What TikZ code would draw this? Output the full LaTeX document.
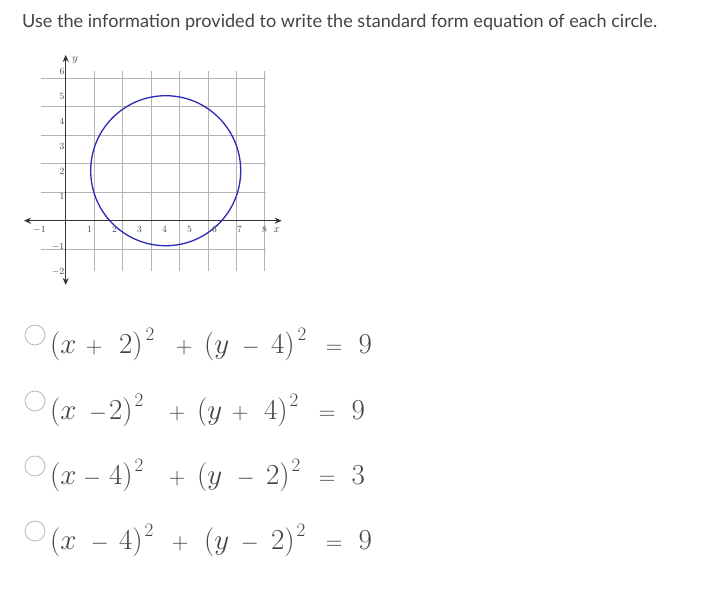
\RequirePackage{fix-cm}
\documentclass[tikz,border=0pt]{standalone}
\usepackage{fontspec}
\newfontfamily\titlefont{Lato}
\usetikzlibrary{arrows.meta}
\definecolor{txt}{HTML}{444444}
\definecolor{gridc}{HTML}{B4B4B4}
\definecolor{axisc}{HTML}{333333}
\definecolor{circc}{HTML}{2B2BB5}
\definecolor{radioc}{HTML}{B8B8B8}
\tikzset{
  eqp/.style={inner sep=0pt, text=txt, font=\fontsize{29}{32}\selectfont},
  opp/.style={inner sep=0pt, text=txt, font=\fontsize{23}{26}\selectfont},
  supp/.style={inner sep=0pt, text=txt, font=\fontsize{19}{21}\selectfont},
  radio/.style={circle, draw=radioc, fill=white, line width=0.8pt, minimum size=20pt, inner sep=0pt},
  tick/.style={inner sep=0pt, text=txt, font=\fontsize{9.5}{10}\selectfont},
  axis/.style={axisc, line width=1.3pt, {Stealth[length=7pt,width=6pt]}-{Stealth[length=7pt,width=6pt]}},
}
% #1 row, #2 baseline, #3 letters/digits, #4 operators, #5 superscripts
\newcommand{\eqrow}[5]{%
  \foreach \px/\tx [count=\k] in {#3} {\node[eqp, anchor=base west, name=e#1-\k] at (\px,#2) {\tx};}
  \foreach \px/\tx [count=\k] in {#4} {\node[opp, anchor=base west, name=o#1-\k] at (\px,#2) {\tx};}
  \foreach \px [count=\k] in {#5} {\node[supp, anchor=base west, name=s#1-\k] at (\px,#2-13) {$2$};}
}
\begin{document}
\begin{tikzpicture}[x=1pt,y=-1pt]
\path[use as bounding box, fill=white] (0,0) rectangle (712,590);
% title
\node[inner sep=0pt, anchor=base west, text=txt, font=\titlefont\fontsize{18.1}{22}\selectfont] (title) at (22,27) {Use the information provided to write the standard form equation of each circle.};
% graph
\begin{scope}[shift={(65.7,220.7)}, x=25pt, y=25pt]
  \draw[gridc, line width=0.9pt] (-1,-2) grid (8,6);
  \coordinate (xl) at (-1.67,0);
  \coordinate (xr) at (8.64,0);
  \coordinate (yt) at (0,6.63);
  \coordinate (yb) at (0,-2.57);
  \draw[axis] (xl) -- (xr);
  \draw[axis] (yb) -- (yt);
  \draw[circc, line width=1.3pt] (4,2) circle[radius=3];
  \foreach \v/\lab in {-1/$-1$,1/1,2/2,3/3,4/4,5/5,6/6,7/7,8/8}
    \node[tick, name=xt\v] at (\v-0.05,-0.36) {\lab};
  \foreach \v/\lab in {6/6,5/5,4/4,3/3,2/2,1/1,-1/$-1$,-2/$-2$}
    \node[tick, anchor=east, name=yt\v] at (-0.05,\v-0.04) {\lab};
  \node[tick, font=\fontsize{11}{11}\selectfont] (xlab) at (8.44,-0.38) {$x$};
  \node[tick, font=\fontsize{11}{11}\selectfont] (ylab) at (0.37,6.42) {$y$};
\end{scope}
% radio buttons
\node[radio] (rb1) at (35,335) {};
\node[radio] (rb2) at (35,401) {};
\node[radio] (rb3) at (35,466) {};
\node[radio] (rb4) at (35,531) {};
% equations
\eqrow{1}{353}{50/{$(x$},119/{$2)$},204/{$(y$},271/{$4)$},358.5/{$9$}}{85.7/{$+$},175.7/{$+$},241.7/{$-$},325.7/{$=$}}{145.5,297.5}
\eqrow{2}{419}{50/{$(x$},109/{$2)$},197/{$(y$},264/{$4)$},351.5/{$9$}}{89/{$-$},168.7/{$+$},231.7/{$+$},318.7/{$=$}}{134.5,289.5}
\eqrow{3}{484}{50/{$(x$},109/{$4)$},197/{$(y$},266/{$2)$},351.5/{$3$}}{83/{$-$},168.7/{$+$},236.7/{$-$},318.7/{$=$}}{134.5,291.5}
\eqrow{4}{549}{50/{$(x$},119/{$4)$},204/{$(y$},271/{$2)$},358.5/{$9$}}{90.7/{$-$},171.7/{$+$},240.7/{$-$},325.7/{$=$}}{144.5,296.5}
\end{tikzpicture}
\end{document}
